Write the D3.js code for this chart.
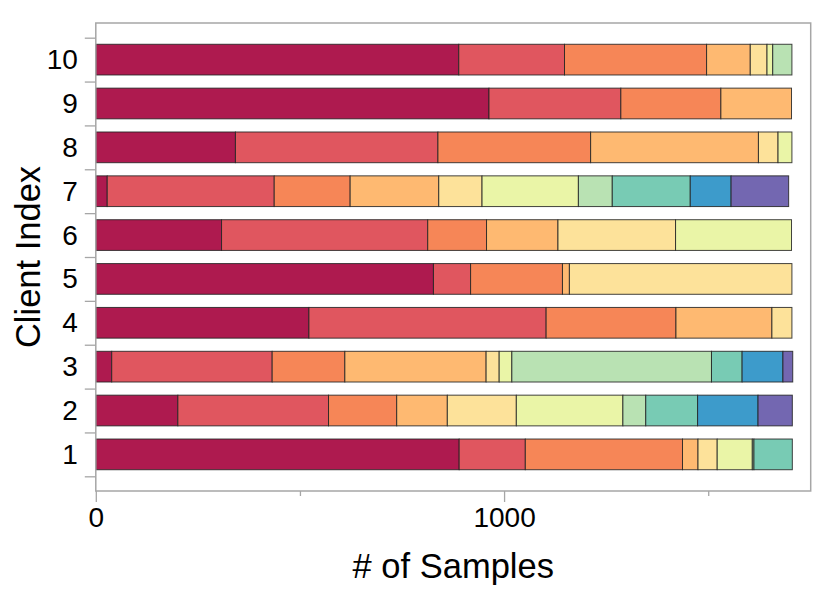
<!DOCTYPE html>
<html><head><meta charset="utf-8">
<script src="https://cdn.jsdelivr.net/npm/d3@7"></script>
<style>body{margin:0;background:#fff}svg{display:block}text{font-family:"Liberation Sans",Arial,sans-serif;fill:#000}</style>
</head><body><svg id="chart" width="830" height="600"></svg>
<script>
// Client labels (y categories)
const clients = [1, 2, 3, 4, 5, 6, 7, 8, 9, 10];
// Sample counts per class, one value per client (1..10)
const class0 = [890, 201, 39, 522, 827, 308, 28, 342, 963, 889];
const class1 = [162, 369, 393, 581, 91, 505, 409, 496, 323, 259];
const class2 = [385, 167, 178, 318, 225, 144, 186, 374, 245, 348];
const class3 = [38, 124, 346, 235, 17, 175, 217, 411, 173, 107];
const class4 = [47, 169, 32, 49, 545, 288, 106, 48, 0, 41];
const class5 = [86, 261, 31, 0, 0, 284, 236, 34, 0, 14];
const class6 = [4, 56, 489, 0, 0, 0, 83, 0, 0, 47];
const class7 = [94, 127, 75, 0, 0, 0, 191, 0, 0, 0];
const class8 = [0, 148, 100, 0, 0, 0, 100, 0, 0, 0];
const class9 = [0, 84, 24, 0, 0, 0, 141, 0, 0, 0];
const xMajorTicks = [0, 1000];
const xMinorTicks = [500, 1500];
const palette = ["#ae1a4f", "#e0565f", "#f68657", "#feb971", "#fde29a",
                 "#eaf5a7", "#b9e2b3", "#78cbb4", "#3d9bcb", "#7367b1"];

const series = [class0, class1, class2, class3, class4, class5, class6, class7, class8, class9];
const keys = series.map((_, i) => "c" + i);
const rows = clients.map((c, j) => {
  const r = {client: c};
  series.forEach((s, i) => r[keys[i]] = s[j]);
  return r;
});
const stacked = d3.stack().keys(keys)(rows);

const svg = d3.select("#chart");
const mLeft = 95.8, mRight = 810.7, mTop = 23, mBottom = 491;
const x = d3.scaleLinear().domain([0, 1751]).range([mLeft, mRight]);
const y = d3.scaleLinear().domain([0.165, 10.835]).range([mBottom, mTop]);
const barH = 0.7;

// bars
stacked.forEach((layer, i) => {
  svg.append("g").selectAll("rect")
    .data(layer.filter(d => d[1] - d[0] > 0))
    .join("rect")
    .attr("x", d => x(d[0]))
    .attr("width", d => x(d[1]) - x(d[0]))
    .attr("y", d => y(d.data.client + barH / 2))
    .attr("height", d => y(d.data.client - barH / 2) - y(d.data.client + barH / 2))
    .attr("fill", palette[i])
    .attr("stroke", "#222")
    .attr("stroke-opacity", 0.85)
    .attr("stroke-width", 1);
});

// frame
svg.append("rect").attr("x", mLeft).attr("y", mTop)
  .attr("width", mRight - mLeft).attr("height", mBottom - mTop)
  .attr("fill", "none").attr("stroke", "#a6a6a6").attr("stroke-width", 1.5);

// x axis major
const xAxis = d3.axisBottom(x).tickValues(xMajorTicks).tickSize(11).tickPadding(5).tickFormat(d3.format("d"));
const gx = svg.append("g").attr("transform", `translate(0,${mBottom})`).call(xAxis);
gx.select(".domain").remove();
gx.selectAll(".tick line").attr("stroke", "#a6a6a6").attr("stroke-width", 1.3);
gx.selectAll(".tick text").attr("font-size", 28).attr("font-family", "Liberation Sans, Arial, sans-serif").attr("fill", "#000");
// x axis minor
const gxm = svg.append("g").attr("transform", `translate(0,${mBottom})`)
  .call(d3.axisBottom(x).tickValues(xMinorTicks).tickSize(5).tickFormat(""));
gxm.select(".domain").remove();
gxm.selectAll(".tick line").attr("stroke", "#a6a6a6").attr("stroke-width", 1.3);

// y axis: labels at centers, ticks at band boundaries
const gy = svg.append("g").attr("transform", `translate(${mLeft},0)`)
  .call(d3.axisLeft(y).tickValues(clients).tickSize(0).tickPadding(18).tickFormat(d3.format("d")));
gy.select(".domain").remove();
gy.selectAll(".tick text").attr("font-size", 28).attr("font-family", "Liberation Sans, Arial, sans-serif").attr("fill", "#000");
const boundaries = clients.map(c => c - 0.5).concat([clients[clients.length - 1] + 0.5]);
const gyt = svg.append("g").attr("transform", `translate(${mLeft},0)`)
  .call(d3.axisLeft(y).tickValues(boundaries).tickSize(11).tickFormat(""));
gyt.select(".domain").remove();
gyt.selectAll(".tick line").attr("stroke", "#a6a6a6").attr("stroke-width", 1.3);

// axis titles
svg.append("text").attr("x", (mLeft + mRight) / 2).attr("y", 578)
  .attr("text-anchor", "middle").attr("font-size", 34.5).text("# of Samples");
svg.append("text").attr("transform", `translate(40,${(mTop + mBottom) / 2}) rotate(-90)`)
  .attr("text-anchor", "middle").attr("font-size", 34.5).text("Client Index");
</script></body></html>
